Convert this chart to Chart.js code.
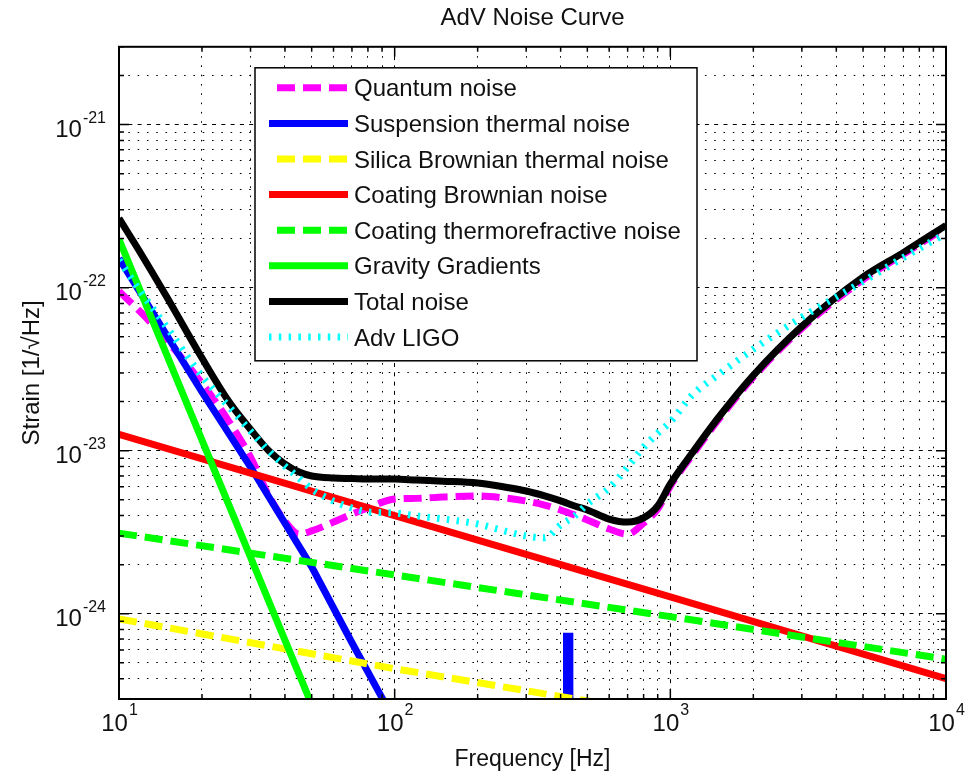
<!DOCTYPE html>
<html>
<head>
<meta charset="utf-8">
<title>AdV Noise Curve</title>
<script src="https://cdn.jsdelivr.net/npm/chart.js@4.4.0/dist/chart.umd.min.js"></script>
<style>
	html, body { margin: 0; padding: 0; background: #fff; }
	#wrap { width: 974px; height: 776px; }
</style>
</head>
<body>
<div id="wrap"><canvas id="myChart" width="974" height="776"></canvas></div>
<script>
// frequencies [Hz] shared by quantum, total and Adv LIGO curves
const freq = [10, 12, 15, 20, 25, 30, 35, 40, 45, 50, 60, 70, 80, 100, 120, 150, 200, 250, 300, 350,
	400, 450, 500, 600, 700, 800, 900, 1000, 1200, 1500, 2000, 3000, 5000, 7000, 10000];
const quantum = [9.5e-23, 7.06e-23, 4.69e-23, 2.59e-23, 1.52e-23, 9.14e-24, 5.27e-24, 3.70e-24, 3.08e-24, 3.22e-24,
	3.65e-24, 4.09e-24, 4.45e-24, 5.05e-24, 5.10e-24, 5.20e-24, 5.27e-24, 5.13e-24, 4.91e-24, 4.64e-24,
	4.33e-24, 4.03e-24, 3.76e-24, 3.31e-24, 3.08e-24, 3.60e-24, 4.39e-24, 6.07e-24, 9.4e-24, 1.56e-23,
	2.82e-23, 5.63e-23, 1.12e-22, 1.60e-22, 2.34e-22];
const total = [2.66e-22, 1.62e-22, 8.6e-23, 3.7e-23, 2.01e-23, 1.35e-23, 9.95e-24, 8.28e-24, 7.40e-24, 7.0e-24,
	6.8e-24, 6.75e-24, 6.7e-24, 6.7e-24, 6.6e-24, 6.5e-24, 6.33e-24, 5.99e-24, 5.66e-24, 5.28e-24,
	4.92e-24, 4.58e-24, 4.33e-24, 3.81e-24, 3.65e-24, 3.87e-24, 4.58e-24, 6.25e-24, 9.67e-24, 1.61e-23,
	2.90e-23, 5.79e-23, 1.16e-22, 1.64e-22, 2.41e-22];
const advLigo = [1.48e-22, 9.4e-23, 5.63e-23, 2.86e-23, 1.87e-23, 1.32e-23, 9.94e-24, 8.05e-24, 6.79e-24, 5.82e-24,
	4.91e-24, 4.45e-24, 4.21e-24, 4.15e-24, 3.98e-24, 3.81e-24, 3.55e-24, 3.22e-24, 3.00e-24, 2.92e-24,
	3.50e-24, 3.98e-24, 4.71e-24, 5.90e-24, 7.94e-24, 1.05e-23, 1.28e-23, 1.50e-23, 2.19e-23, 2.94e-23,
	4.19e-23, 6.58e-23, 1.09e-22, 1.53e-22, 2.15e-22];

// suspension thermal noise, with the violin mode near 420 Hz
const suspFreq = [10, 20, 30, 50, 70, 90, 100, 200, 400, 419, 420, 432, 433, 1000];
const suspension = [1.51e-22, 2.29e-23, 7.94e-24, 1.94e-24, 6.64e-25, 3.05e-25, 2.2e-25, 3e-26, 4e-27, 3.5e-27,
	7.27e-25, 7.27e-25, 3.4e-27, 3e-28];

const silicaFreq = [10, 100, 1000];
const silica = [9.3e-25, 4.6e-25, 2.4e-25];

const coatFreq = [10, 100, 1000, 10000];
const coatBrownian = [1.26e-23, 4.0e-24, 1.27e-24, 4.0e-25];
const coatThermo = [3.12e-24, 1.73e-24, 9.6e-25, 5.26e-25];

const gravFreq = [10, 20, 50, 100];
const gravity = [1.98e-22, 1.16e-23, 2.77e-25, 1.6e-26];

const names = ['Quantum noise', 'Suspension thermal noise', 'Silica Brownian thermal noise', 'Coating Brownian noise',
	'Coating thermorefractive noise', 'Gravity Gradients', 'Total noise', 'Adv LIGO'];

// tick label exponents (10^n)
const xDecades = [1, 2, 3, 4];
const yDecades = [-24, -23, -22, -21];

const FONT = "'Liberation Sans', Arial, Helvetica, sans-serif";
const DASH = [18, 8];
const DOT = [2.5, 7.3];

function pts(xs, ys){
	var out = [];
	for (let i = 0; i < xs.length; i++){
		out.push({x: xs[i], y: ys[i]});
	}
	return out;
}

const series = [
	{data: pts(freq, quantum), color: '#ff00ff', dash: DASH, smooth: true},
	{data: pts(suspFreq, suspension), color: '#0000ff', dash: null, smooth: false},
	{data: pts(silicaFreq, silica), color: '#ffff00', dash: DASH, smooth: false},
	{data: pts(coatFreq, coatBrownian), color: '#ff0000', dash: null, smooth: false},
	{data: pts(coatFreq, coatThermo), color: '#00ff00', dash: DASH, smooth: false},
	{data: pts(gravFreq, gravity), color: '#00ff00', dash: null, smooth: false},
	{data: pts(freq, total), color: '#000000', dash: null, smooth: true},
	{data: pts(freq, advLigo), color: '#00ffff', dash: DOT, smooth: true}
];

const datasets = series.map((s, i) => ({
	label: names[i],
	data: s.data,
	borderColor: s.color,
	backgroundColor: s.color,
	borderWidth: 7,
	borderDash: s.dash || [],
	borderCapStyle: 'butt',
	borderJoinStyle: s.smooth ? 'round' : 'miter',
	cubicInterpolationMode: s.smooth ? 'monotone' : 'default',
	pointRadius: 0,
	tension: 0,
	fill: false,
	clip: 0,
	order: series.length - i
}));

// grid values 1..9 x 10^n between min and max
function gridTicks(min, max){
	var ticks = [];
	for (let e = Math.floor(Math.log10(min)); e <= Math.ceil(Math.log10(max)); e++){
		for (let k = 1; k <= 9; k++){
			const v = k * Math.pow(10, e);
			if (v >= min * 0.999 && v <= max * 1.001) ticks.push({value: v, major: k === 1});
		}
	}
	return ticks;
}

const gridDash = ctx => (ctx.tick && ctx.tick.major) ? [4, 5.3] : [1.6, 7.7];

const axesBox = {
	id: 'axesBox',
	afterDatasetsDraw(chart){
		const ctx = chart.ctx, a = chart.chartArea;
		const xs = chart.scales.x, ys = chart.scales.y;
		ctx.save();
		ctx.strokeStyle = '#000';
		ctx.lineWidth = 1.5;
		ctx.beginPath();
		xs.ticks.forEach(t => {
			const px = xs.getPixelForValue(t.value);
			const len = t.major ? 10 : 5;
			ctx.moveTo(px, a.bottom); ctx.lineTo(px, a.bottom - len);
			ctx.moveTo(px, a.top); ctx.lineTo(px, a.top + len);
		});
		ys.ticks.forEach(t => {
			const py = ys.getPixelForValue(t.value);
			const len = t.major ? 10 : 5;
			ctx.moveTo(a.left, py); ctx.lineTo(a.left + len, py);
			ctx.moveTo(a.right, py); ctx.lineTo(a.right - len, py);
		});
		ctx.stroke();
		ctx.lineWidth = 2;
		ctx.strokeRect(a.left, a.top, a.right - a.left, a.bottom - a.top);

		// tick labels 10^n
		ctx.fillStyle = '#111';
		ctx.textBaseline = 'alphabetic';
		xDecades.forEach(n => {
			const px = xs.getPixelForValue(Math.pow(10, n));
			ctx.font = '24px ' + FONT;
			const w1 = ctx.measureText('10').width;
			ctx.font = '16px ' + FONT;
			const w2 = ctx.measureText(String(n)).width;
			const x0 = px - (w1 + w2) / 2;
			ctx.font = '24px ' + FONT;
			ctx.fillText('10', x0, 731);
			ctx.font = '16px ' + FONT;
			ctx.fillText(String(n), x0 + w1 + 1, 715);
		});
		yDecades.forEach(n => {
			const py = ys.getPixelForValue(Math.pow(10, n));
			ctx.font = '16px ' + FONT;
			const w2 = ctx.measureText(String(n)).width;
			ctx.fillText(String(n), 106 - w2, py - 2);
			ctx.font = '24px ' + FONT;
			const w1 = ctx.measureText('10').width;
			ctx.fillText('10', 106 - w2 - 1 - w1, py + 12);
		});
		ctx.restore();
	}
};

const boxLegend = {
	id: 'boxLegend',
	afterDraw(chart){
		const ctx = chart.ctx, a = chart.chartArea;
		const left = a.left + 136, top = a.top + 21;
		ctx.save();
		ctx.fillStyle = '#fff';
		ctx.fillRect(left, top, 442, 293);
		ctx.strokeStyle = '#000';
		ctx.lineWidth = 1.5;
		ctx.strokeRect(left, top, 442, 293);
		ctx.font = '24px ' + FONT;
		ctx.textBaseline = 'middle';
		chart.data.datasets.forEach((ds, i) => {
			const y = top + 20 + i * 35.6;
			ctx.strokeStyle = ds.borderColor;
			ctx.lineWidth = 7;
			ctx.setLineDash(ds.borderDash);
			ctx.lineDashOffset = (ds.borderDash === DASH) ? DASH[0] : 0;
			ctx.beginPath();
			ctx.moveTo(left + 14, y);
			ctx.lineTo(left + 93, y);
			ctx.stroke();
			ctx.setLineDash([]);
			ctx.fillStyle = '#111';
			ctx.fillText(ds.label, left + 99, y + 2);
		});
		ctx.restore();
	}
};

const ctx = document.getElementById('myChart').getContext('2d');
const myChart = new Chart(ctx, {
	type: 'line',
	data: { datasets: datasets },
	plugins: [axesBox, boxLegend],
	options: {
		responsive: false,
		animation: false,
		devicePixelRatio: 1,
		layout: { padding: { top: 0, right: 28, bottom: 0, left: 0 } },
		plugins: {
			legend: { display: false },
			tooltip: { enabled: false },
			title: {
				display: true,
				text: 'AdV Noise Curve',
				fullSize: false,
				color: '#111',
				font: { family: FONT, size: 24, weight: 'normal' },
				padding: { top: 4, bottom: 14 }
			}
		},
		scales: {
			x: {
				type: 'logarithmic',
				position: 'bottom',
				min: 10,
				max: 10000,
				ticks: { display: false },
				grid: { color: '#000', lineWidth: 1, drawTicks: false },
				border: { display: false, dash: gridDash },
				title: {
					display: true,
					text: 'Frequency [Hz]',
					color: '#111',
					font: { family: FONT, size: 23 },
					padding: { top: 0, bottom: 3 }
				},
				afterBuildTicks: s => { s.ticks = gridTicks(10, 10000); },
				afterFit: s => { s.height = 77; }
			},
			y: {
				type: 'logarithmic',
				position: 'left',
				min: 3e-25,
				max: 3e-21,
				ticks: { display: false },
				grid: { color: '#000', lineWidth: 1, drawTicks: false },
				border: { display: false, dash: gridDash },
				title: {
					display: true,
					text: 'Strain [1/\u221AHz]',
					color: '#111',
					font: { family: FONT, size: 24 },
					padding: { top: 18, bottom: 0 }
				},
				afterBuildTicks: s => { s.ticks = gridTicks(3e-25, 3e-21); },
				afterFit: s => { s.width = 119; }
			}
		}
	}
});
</script>
</body>
</html>
